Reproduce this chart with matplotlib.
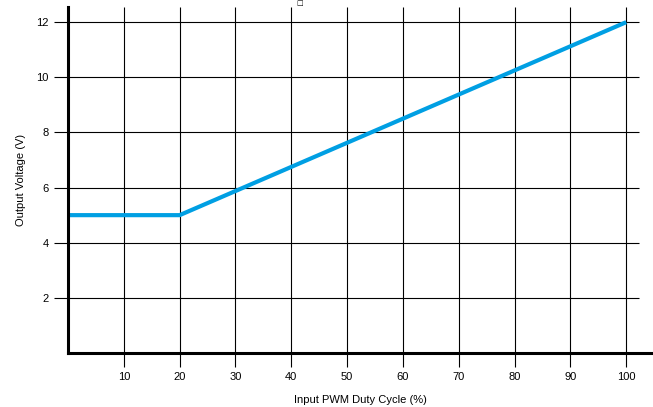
import matplotlib
matplotlib.use("Agg")
import matplotlib.pyplot as plt

# data
duty = [0, 20, 100]
volts = [5, 5, 12]
x_ticks = [10, 20, 30, 40, 50, 60, 70, 80, 90, 100]
y_ticks = [2, 4, 6, 8, 10, 12]

plt.rcParams['font.family'] = ['Liberation Sans', 'DejaVu Sans']

W, H = 653, 407
fig = plt.figure(figsize=(W / 100, H / 100), dpi=100)
ax = fig.add_axes([68 / W, (H - 353) / H, (W - 68) / W, (353 - 7) / H])

x_max, y_max = 104.8, 12.55
grid_right = 102.3
ax.set_xlim(0, x_max)
ax.set_ylim(0, y_max)

# grid lines (custom extents)
ax.vlines(x_ticks, 0, y_max, color='black', lw=0.8, zorder=1)
ax.hlines(y_ticks, 0, grid_right, color='black', lw=0.8, zorder=1)

ax.plot(duty, volts, color='#009FE3', lw=3.0, solid_capstyle='butt', zorder=3)

ax.set_xticks(x_ticks)
ax.set_yticks(y_ticks)
ax.tick_params(axis='both', direction='out', length=10, width=0.8,
               color='black', labelsize=8, pad=4)

for s in ['top', 'right']:
    ax.spines[s].set_visible(False)
for s in ['left', 'bottom']:
    ax.spines[s].set_linewidth(2.2)
    ax.spines[s].set_zorder(4)

ax.set_xlabel('Input PWM Duty Cycle (%)', fontsize=8, labelpad=9)
ax.set_ylabel('Output Voltage (V)', fontsize=8, labelpad=7)

fig.text(300 / W, 1 - 3 / H, '\u25a1', fontsize=5, ha='center', va='center',
         family=['DejaVu Sans'])

fig.savefig('out.png', dpi=100)
